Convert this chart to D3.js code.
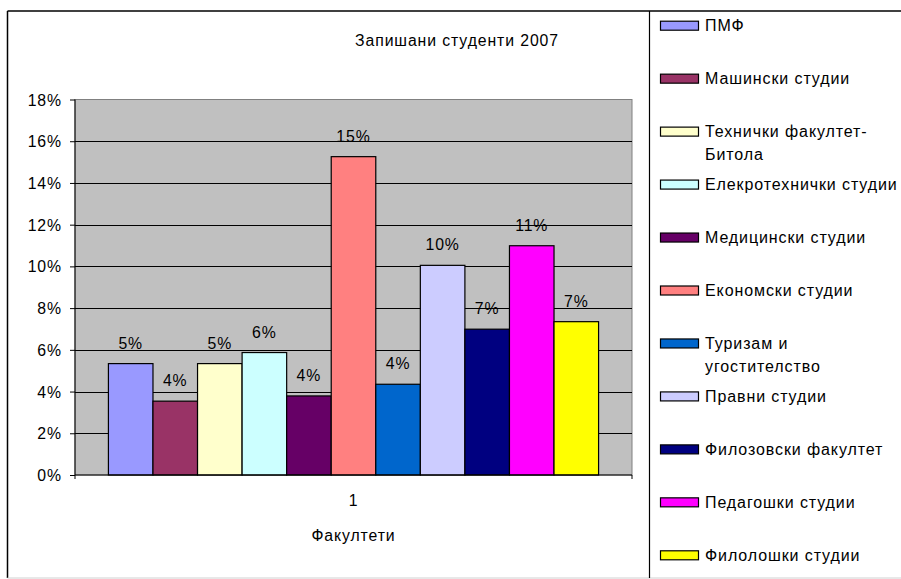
<!DOCTYPE html>
<html><head><meta charset="utf-8">
<script src="https://cdn.jsdelivr.net/npm/d3@7/dist/d3.min.js"></script>
<style>body{margin:0;background:#fff}svg{display:block}text{font-family:"Liberation Sans",Arial,sans-serif;fill:#000;letter-spacing:0.9px}</style>
</head><body>
<svg id="c" width="901" height="579"></svg>
<script>
const categories = ["ПМФ","Машински студии","Технички факултет-Битола","Елекротехнички студии","Медицински студии","Економски студии","Туризам и угостителство","Правни студии","Филозовски факултет","Педагошки студии","Филолошки студии"];
const legendLines = [["ПМФ"],["Машински студии"],["Технички факултет-","Битола"],["Елекротехнички студии"],["Медицински студии"],["Економски студии"],["Туризам и","угостителство"],["Правни студии"],["Филозовски факултет"],["Педагошки студии"],["Филолошки студии"]];
const values = [0.0534,0.0354,0.0534,0.0587,0.0379,0.1526,0.0435,0.1005,0.0699,0.1099,0.0735];
const colors = ["#9999FF","#993366","#FFFFCC","#CCFFFF","#660066","#FF8080","#0066CC","#CCCCFF","#000080","#FF00FF","#FFFF00"];
const yTicks = [0,0.02,0.04,0.06,0.08,0.10,0.12,0.14,0.16,0.18];
const groupLabel = ["1"];

const svg = d3.select("#c");
const FS = 15.8;
// outer frame
svg.append("line").attr("x1",7.5).attr("x2",901).attr("y1",11).attr("y2",11).attr("stroke","#000").attr("stroke-width",1.5);
svg.append("line").attr("x1",7.5).attr("x2",7.5).attr("y1",11).attr("y2",578).attr("stroke","#000").attr("stroke-width",1.5);
svg.append("line").attr("x1",7.5).attr("x2",901).attr("y1",578).attr("y2",578).attr("stroke","#d0d0d0").attr("stroke-width",1);
svg.append("line").attr("x1",649.5).attr("x2",649.5).attr("y1",11).attr("y2",578).attr("stroke","#000").attr("stroke-width",1.2);

const L=75,R=632,T=99.5,B=475;
const y = d3.scaleLinear().domain([0,0.18]).range([B,T]);
const x0 = d3.scaleBand().domain(groupLabel).range([L,R]).paddingInner(0).paddingOuter(0);
const groupW = x0.bandwidth();
const barW = groupW/(categories.length+1.5);
const x1 = d3.scaleBand().domain(categories).range([L+0.75*barW, R-0.75*barW]).padding(0);

svg.append("rect").attr("x",L).attr("y",T).attr("width",R-L).attr("height",B-T).attr("fill","#C0C0C0").attr("stroke","#808080").attr("stroke-width",1);
// gridlines
svg.append("g").selectAll("line").data(yTicks.slice(1,-1)).join("line")
  .attr("x1",L).attr("x2",R).attr("y1",d=>Math.round(y(d))+0.5).attr("y2",d=>Math.round(y(d))+0.5).attr("stroke","#000").attr("stroke-width",1);

// bars
svg.append("g").selectAll("rect").data(values).join("rect")
  .attr("x",(d,i)=>x1(categories[i])).attr("width",x1.bandwidth())
  .attr("y",d=>y(d)).attr("height",d=>B-y(d))
  .attr("fill",(d,i)=>colors[i]).attr("stroke","#000").attr("stroke-width",1.2);

// value labels
svg.append("g").selectAll("text").data(values).join("text")
  .attr("x",(d,i)=>x1(categories[i])+x1.bandwidth()/2).attr("y",d=>y(d)-15)
  .attr("text-anchor","middle").attr("font-size",FS).text(d=>d3.format(".0%")(d));

// axes
const yAxis = d3.axisLeft(y).tickValues(yTicks).tickFormat(d3.format(".0%")).tickSize(5).tickPadding(8);
const gy = svg.append("g").attr("transform",`translate(${L},0)`).call(yAxis);
gy.select(".domain").attr("stroke","#000").attr("d",`M0,${T}V${B+4}`);
gy.selectAll(".tick line").attr("stroke","#000");
gy.selectAll(".tick text").attr("font-size",FS).attr("font-family","Liberation Sans, Arial, sans-serif").attr("fill","#000").attr("dy","0.35em");
const xAxis = d3.axisBottom(x0).tickSize(0).tickPadding(20);
const gx = svg.append("g").attr("transform",`translate(0,${B})`).call(xAxis);
gx.select(".domain").attr("stroke","#000").attr("d",`M${L},0H${R}V4`);
gx.selectAll(".tick text").attr("font-size",FS).attr("font-family","Liberation Sans, Arial, sans-serif").attr("fill","#000").attr("dy","0.7em");

// titles
svg.append("text").attr("x",457).attr("y",46).attr("text-anchor","middle").attr("font-size",FS).text("Запишани студенти 2007");
svg.append("text").attr("x",(L+R)/2).attr("y",541).attr("text-anchor","middle").attr("font-size",FS).text("Факултети");

// legend
const lg = svg.append("g").selectAll("g").data(categories).join("g")
  .attr("transform",(d,i)=>`translate(0,${25.7+i*52.96})`);
lg.append("rect").attr("x",660.5).attr("y",-4.5).attr("width",38).attr("height",9).attr("fill",(d,i)=>colors[i]).attr("stroke","#000").attr("stroke-width",1.2);
lg.append("text").attr("x",705).attr("y",5.5).attr("font-size",16)
  .each(function(d,i){
    const t=d3.select(this);
    legendLines[i].forEach((ln,j)=>t.append("tspan").attr("x",705).attr("dy",j?23:0).text(ln));
  });
</script>
</body></html>
